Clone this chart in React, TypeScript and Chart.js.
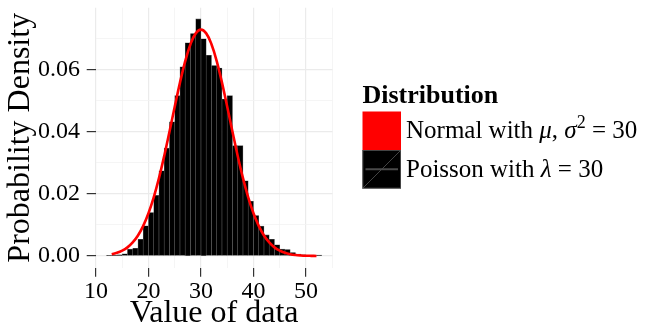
import React, { useEffect, useRef } from 'react';
import { Chart, registerables } from 'chart.js';

Chart.register(...registerables);

// ---- data ----
// histogram bins (k-1, k], density per bin
const binRightEdges = [13, 14, 15, 16, 17, 18, 19, 20, 21, 22, 23, 24, 25, 26, 27, 28, 29, 30, 31, 32, 33, 34, 35, 36, 37, 38, 39, 40, 41, 42, 43, 44, 45, 46, 47, 48, 49, 50, 51, 52, 53];
const binDensity = [0.0002, 0.0003, 0.0004, 0.0007, 0.0022, 0.0025, 0.0054, 0.0097, 0.0140, 0.0195, 0.0274, 0.0347, 0.0432, 0.0516, 0.0609, 0.0686, 0.0716, 0.0763, 0.0699, 0.0646, 0.0613, 0.0605, 0.0505, 0.0516, 0.0355, 0.0355, 0.0242, 0.0176, 0.0130, 0.0096, 0.0068, 0.0054, 0.0036, 0.0022, 0.0021, 0.0011, 0.0006, 0.0004, 0.0002, 0.0002, 0.0003];

// normal density curve, read at integer points
const curveX = [13, 14, 15, 16, 17, 18, 19, 20, 21, 22, 23, 24, 25, 26, 27, 28, 29, 30, 31, 32, 33, 34, 35, 36, 37, 38, 39, 40, 41, 42, 43, 44, 45, 46, 47, 48, 49, 50, 51, 52];
const curveDensity = [0.00059, 0.00102, 0.00171, 0.00278, 0.00436, 0.00661, 0.0097, 0.01376, 0.01888, 0.02507, 0.03219, 0.03998, 0.04802, 0.05579, 0.0627, 0.06814, 0.07164, 0.07284, 0.07164, 0.06814, 0.0627, 0.05579, 0.04802, 0.03998, 0.03219, 0.02507, 0.01888, 0.01376, 0.0097, 0.00661, 0.00436, 0.00278, 0.00171, 0.00102, 0.00059, 0.00033, 0.00018, 0.00009, 0.00005, 0.00002];

const xGridValues = [10, 15, 20, 25, 30, 35, 40, 45, 50, 55];
const xTickLabels = [10, 20, 30, 40, 50];
const yGridValues = [0, 0.01, 0.02, 0.03, 0.04, 0.05, 0.06, 0.07];
const yTickLabels = [0, 0.02, 0.04, 0.06];

const xTitle = 'Value of data';
const yTitle = 'Probability Density';
const legendTitle = 'Distribution';
const seriesLabels = ['Normal with μ, σ² = 30', 'Poisson with λ = 30'];
type Part = { t: string; s: 'n' | 'i' | 'sup' };
const normalLabelParts: Part[] = [
  { t: 'Normal with ', s: 'n' },
  { t: 'μ', s: 'i' },
  { t: ', ', s: 'n' },
  { t: 'σ', s: 'i' },
  { t: '2', s: 'sup' },
  { t: ' = 30', s: 'n' },
];
const poissonLabelParts: Part[] = [
  { t: 'Poisson with ', s: 'n' },
  { t: 'λ', s: 'i' },
  { t: ' = 30', s: 'n' },
];

const FAMILY = '"Liberation Serif", "DejaVu Serif", serif';
const RED = '#ff0000';

const isIn = (arr: number[], v: number) => arr.some((a) => Math.abs(a - v) < 1e-9);

const legendPlugin = {
  id: 'ggLegend',
  afterDraw(chart: any) {
    const ctx: CanvasRenderingContext2D = chart.ctx;
    ctx.save();
    const x0 = 362.5;
    const key = 38.5;
    const top = 111.5;
    ctx.fillStyle = '#000';
    ctx.textBaseline = 'alphabetic';
    ctx.textAlign = 'left';
    ctx.font = `bold 26px ${FAMILY}`;
    ctx.fillText(legendTitle, x0, 102.5);

    // red key
    ctx.fillStyle = RED;
    ctx.fillRect(x0, top, key, key);
    // black key
    ctx.fillStyle = '#000';
    ctx.fillRect(x0, top + key, key, key);
    ctx.strokeStyle = '#555';
    ctx.lineWidth = 0.8;
    ctx.strokeRect(x0 + 0.4, top + key + 0.4, key - 0.8, key - 0.8);
    ctx.beginPath();
    ctx.moveTo(x0, top + 2 * key);
    ctx.lineTo(x0 + key, top + key);
    ctx.stroke();
    ctx.strokeStyle = '#4a4a4a';
    ctx.lineWidth = 2;
    ctx.beginPath();
    ctx.moveTo(x0 + 3, top + 1.5 * key);
    ctx.lineTo(x0 + key - 3, top + 1.5 * key);
    ctx.stroke();

    const drawRich = (parts: Part[], x: number, yMid: number) => {
      ctx.fillStyle = '#000';
      ctx.textBaseline = 'middle';
      let cx = x;
      for (const p of parts) {
        let y = yMid;
        if (p.s === 'n') ctx.font = `25px ${FAMILY}`;
        else if (p.s === 'i') ctx.font = `italic 25px ${FAMILY}`;
        else {
          ctx.font = `18px ${FAMILY}`;
          y = yMid - 8;
        }
        ctx.fillText(p.t, cx, y);
        cx += ctx.measureText(p.t).width;
      }
    };
    drawRich(normalLabelParts, x0 + key + 5, top + key / 2 + 1);
    drawRich(poissonLabelParts, x0 + key + 5, top + 1.5 * key + 1);
    ctx.restore();
  },
};

export default function App() {
  const ref = useRef<HTMLCanvasElement | null>(null);
  useEffect(() => {
    if (!ref.current) return;
    const chart = new Chart(ref.current, {
      type: 'bar',
      data: {
        datasets: [
          {
            type: 'line',
            label: seriesLabels[0],
            data: curveX.map((x, i) => ({ x, y: curveDensity[i] })),
            borderColor: RED,
            borderWidth: 2.6,
            pointRadius: 0,
            tension: 0.4,
            fill: false,
            order: 1,
          } as any,
          {
            type: 'bar',
            label: seriesLabels[1],
            data: binRightEdges.map((r, i) => ({ x: r - 0.5, y: binDensity[i] })),
            backgroundColor: '#000',
            borderColor: '#5a5a5a',
            borderWidth: 0.6,
            barPercentage: 1,
            categoryPercentage: 1,
            order: 2,
          } as any,
        ],
      },
      options: {
        animation: false,
        responsive: false,
        devicePixelRatio: 1,
        layout: { padding: { top: 7.7, right: 319.5, left: 0, bottom: 0 } },
        plugins: { legend: { display: false }, tooltip: { enabled: false } },
        scales: {
          x: {
            type: 'linear',
            offset: false,
            min: 9.95,
            max: 55.05,
            afterBuildTicks: (s: any) => {
              s.ticks = xGridValues.map((v) => ({ value: v }));
            },
            afterFit: (s: any) => {
              s.height = 62.2;
              s.paddingLeft = 0;
              s.paddingRight = 0;
              s.paddingTop = 0;
              s.paddingBottom = 0;
            },
            ticks: {
              autoSkip: false,
              maxRotation: 0,
              padding: 2.7,
              color: '#000',
              font: { family: FAMILY, size: 24, lineHeight: 1 },
              callback: (v: any) => (isIn(xTickLabels, Number(v)) ? String(v) : ''),
            },
            grid: {
              offset: false,
              color: (c: any) => (isIn(xTickLabels, c.tick?.value) ? '#ebebeb' : '#f3f3f3'),
              lineWidth: (c: any) => (isIn(xTickLabels, c.tick?.value) ? 1.2 : 0.8),
              tickColor: (c: any) => (isIn(xTickLabels, c.tick?.value) ? '#333' : 'rgba(0,0,0,0)'),
              tickLength: 9,
              tickWidth: 1.2,
              drawTicks: true,
            },
            border: { display: false },
            title: {
              display: true,
              text: xTitle,
              color: '#000',
              font: { family: FAMILY, size: 32, lineHeight: 1 },
              padding: { top: 0, bottom: 0 },
            },
          },
          y: {
            type: 'linear',
            offset: false,
            min: -0.0038,
            max: 0.0799,
            afterBuildTicks: (s: any) => {
              s.ticks = yGridValues.map((v) => ({ value: v }));
            },
            afterFit: (s: any) => {
              s.width = 95.7;
              s.paddingLeft = 0;
              s.paddingRight = 0;
              s.paddingTop = 0;
              s.paddingBottom = 0;
            },
            ticks: {
              autoSkip: false,
              padding: 6.7,
              color: '#000',
              font: { family: FAMILY, size: 24, lineHeight: 1 },
              callback: (v: any) => (isIn(yTickLabels, Number(v)) ? Number(v).toFixed(2) : ''),
            },
            grid: {
              offset: false,
              color: (c: any) => (isIn(yTickLabels, c.tick?.value) ? '#ebebeb' : '#f3f3f3'),
              lineWidth: (c: any) => (isIn(yTickLabels, c.tick?.value) ? 1.2 : 0.8),
              tickColor: (c: any) => (isIn(yTickLabels, c.tick?.value) ? '#333' : 'rgba(0,0,0,0)'),
              tickLength: 9,
              tickWidth: 1.2,
              drawTicks: true,
            },
            border: { display: false },
            title: {
              display: true,
              text: yTitle,
              color: '#000',
              font: { family: FAMILY, size: 32, lineHeight: 1 },
              padding: { top: 5, bottom: 0 },
            },
          },
        },
      } as any,
      plugins: [legendPlugin],
    });
    return () => chart.destroy();
  }, []);
  return (
    <div style={{ position: 'absolute', left: 0, top: 0, width: 652, height: 330, background: '#fff' }}>
      <canvas ref={ref} width={652} height={330} style={{ width: 652, height: 330, display: 'block' }} />
    </div>
  );
}
